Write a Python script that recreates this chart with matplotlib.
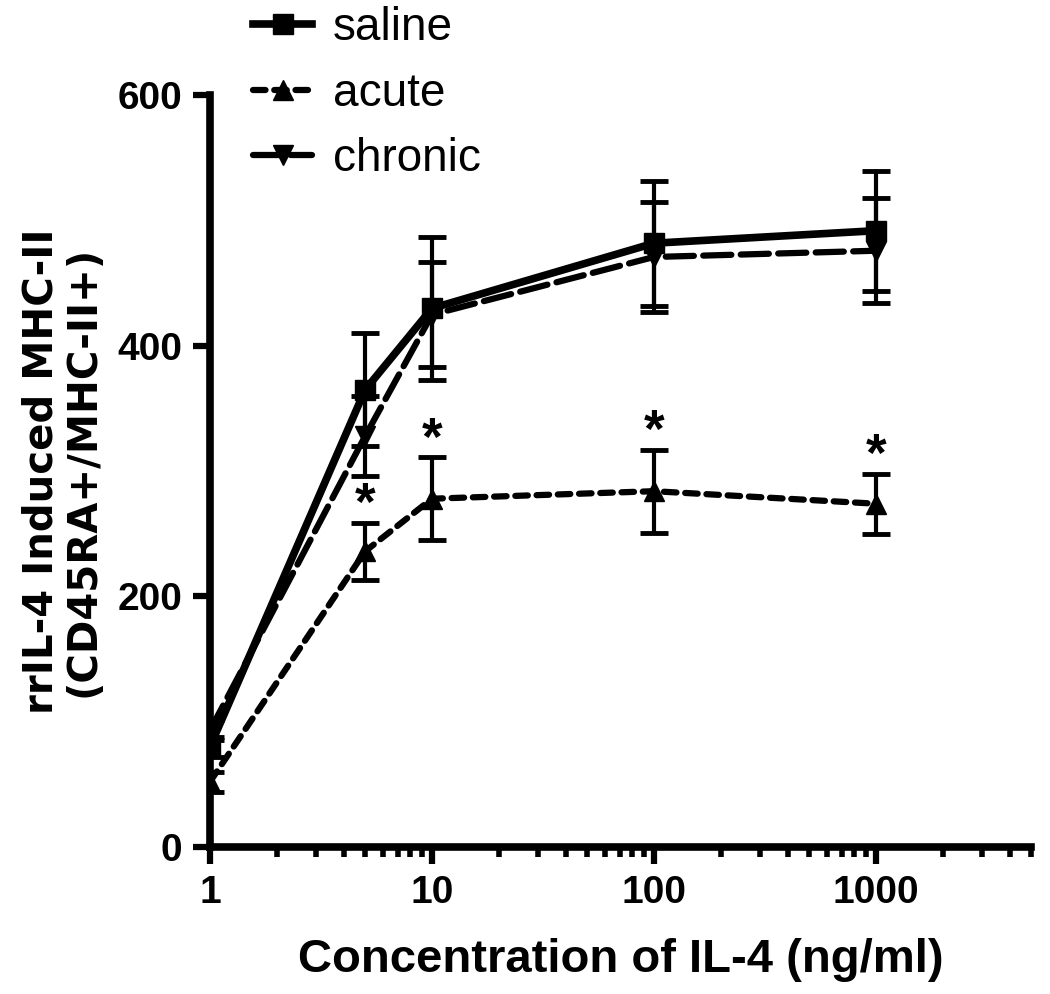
import numpy as np
import matplotlib
matplotlib.use("Agg")
import matplotlib.pyplot as plt
from matplotlib.ticker import LogLocator, FixedLocator, NullFormatter

# data
conc = [1, 5, 10, 100, 1000]
saline = [80, 365, 430, 482, 492]
saline_err = [8, 45, 57, 50, 48]
acute = [52, 236, 278, 284, 274]
acute_err = [8, 23, 33, 33, 24]
chronic = [93, 328, 425, 471, 476]
chronic_err = [8, 32, 42, 44, 42]
sig_conc = [5, 10, 100, 1000]

plt.rcParams['font.family'] = ['Liberation Sans', 'DejaVu Sans']

fig = plt.figure(figsize=(10.5, 9.94), dpi=100)
ax = fig.add_axes([0.2, 0.148, 0.782, 0.756])

ebkw = dict(fmt='none', ecolor='black', elinewidth=3, capsize=10, capthick=3.5, zorder=2)
ax.errorbar(conc, saline, yerr=saline_err, **ebkw)
ax.errorbar(conc, acute, yerr=acute_err, **ebkw)
ax.errorbar(conc, chronic, yerr=chronic_err, **ebkw)

l1, = ax.plot(conc, saline, '-', color='black', lw=5.5, marker='s', ms=15,
              label='saline', zorder=4)
l2, = ax.plot(conc, acute, color='black', lw=4.5, marker='^', ms=14,
              dashes=(2.0, 1.4), dash_capstyle='round', label='acute', zorder=3)
l3, = ax.plot(conc, chronic, color='black', lw=4.5, marker='v', ms=14,
              dashes=(4.5, 1.5), dash_capstyle='round', label='chronic', zorder=3)

# significance stars above acute error bars
for c in sig_conc:
    i = conc.index(c)
    ax.annotate('*', xy=(c, acute[i] + acute_err[i]), xytext=(0, -6),
                textcoords='offset points', ha='center', va='bottom',
                fontsize=38, fontweight='bold')

ax.set_xscale('log')
ax.set_xlim(1, 5000)
ax.set_ylim(0, 600)
ax.set_yticks([0, 200, 400, 600])
ax.xaxis.set_major_locator(FixedLocator([1, 10, 100, 1000]))
ax.set_xticklabels(['1', '10', '100', '1000'])
ax.xaxis.set_minor_locator(LogLocator(base=10, subs=np.arange(2, 10), numticks=20))
ax.xaxis.set_minor_formatter(NullFormatter())

for s in ['top', 'right']:
    ax.spines[s].set_visible(False)
for s in ['left', 'bottom']:
    ax.spines[s].set_linewidth(5.5)
ax.tick_params(axis='both', which='major', width=4.5, length=12, labelsize=28,
               pad=8)
ax.tick_params(axis='x', which='minor', width=4, length=7)
for lab in ax.get_xticklabels() + ax.get_yticklabels():
    lab.set_fontweight('bold')

ax.set_xlabel('Concentration of IL-4 (ng/ml)', fontsize=34, fontweight='bold',
              labelpad=20)
ax.set_ylabel('rrIL-4 Induced MHC-II\n(CD45RA+/MHC-II+)', fontsize=29,
              fontweight='bold', labelpad=10, linespacing=1.05,
              family=['DejaVu Sans'])

fig.legend(handles=[l1, l2, l3], loc='upper left', bbox_to_anchor=(0.219, 1.017),
           frameon=False, fontsize=33, handlelength=1.3, handletextpad=0.45,
           labelspacing=0.47, borderaxespad=0.1)

fig.savefig('out.png', dpi=100)
